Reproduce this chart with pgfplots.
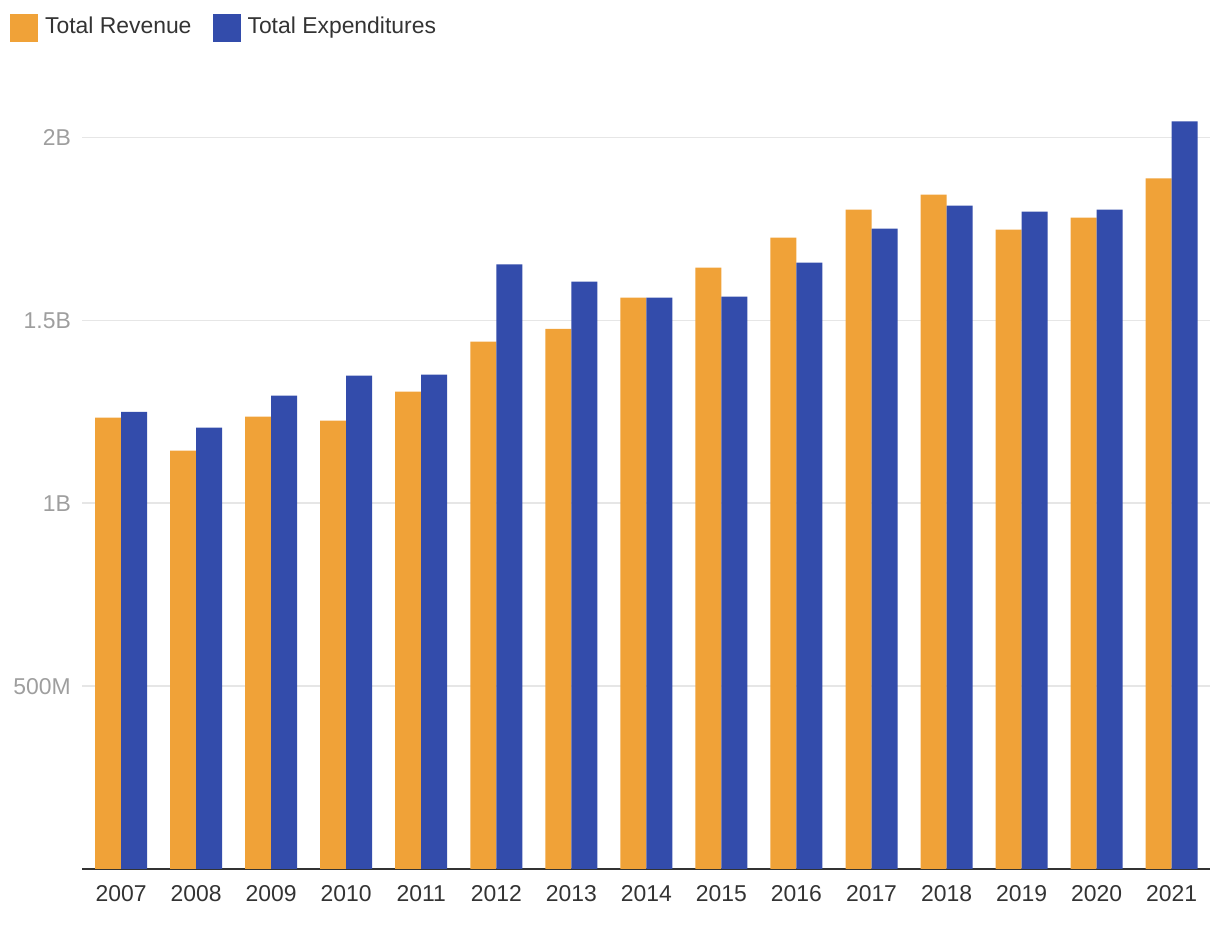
\documentclass[border=0pt]{standalone}
\usepackage{fontspec}
\setmainfont{Liberation Sans}
\usepackage{pgfplots}
\pgfplotsset{compat=1.18}
\definecolor{rev}{HTML}{F0A238}
\definecolor{expd}{HTML}{334CAB}
\definecolor{gridc}{HTML}{E6E6E6}
\definecolor{ylab}{HTML}{9E9E9E}
\definecolor{xlab}{HTML}{333333}
\begin{document}
\begin{tikzpicture}
\useasboundingbox (0bp,0bp) rectangle (1220bp,926bp);
\begin{axis}[
  at={(82bp,57bp)}, anchor=south west,
  scale only axis, width=1128bp, height=804.65bp,
  xmin=-0.52, xmax=14.51, ymin=0, ymax=2.2,
  ybar=0pt, bar width=26bp,
  axis x line*=bottom, axis y line*=left,
  y axis line style={draw=none},
  x axis line style={draw=xlab, line width=2bp},
  major tick length=0pt, tick style={draw=none},
  ytick={0.5,1,1.5,2}, yticklabels={500M,1B,1.5B,2B},
  xtick={0,...,14},
  xticklabels={2007,2008,2009,2010,2011,2012,2013,2014,2015,2016,2017,2018,2019,2020,2021},
  ymajorgrids, grid style={draw=gridc, line width=1.5bp},
  /pgf/number format/assume math mode=true,
  yticklabel style={font=\fontsize{23}{27}\selectfont, text=ylab, inner sep=0pt, xshift=-11bp},
  xticklabel style={font=\fontsize{23}{27}\selectfont, text=xlab, inner sep=0pt, anchor=north, yshift=-16bp},
  legend columns=2,
  legend image code/.code={\fill[#1,/tikz/.cd,draw=none] (0bp,-16bp) rectangle (28bp,12bp); \path (35bp,0bp);},
  legend style={at={(-0.0638,1.0626)}, anchor=north west, draw=none, fill=none,
    inner sep=0pt, outer sep=0pt, font=\fontsize{23}{27}\selectfont, text=xlab,
    nodes={inner sep=0pt},
    /tikz/every even column/.append style={column sep=21bp}},
]
\addplot[fill=rev, draw=none] coordinates {
(0,1.234) (1,1.144) (2,1.237) (3,1.226) (4,1.305) (5,1.442) (6,1.477) (7,1.562)
(8,1.644) (9,1.726) (10,1.803) (11,1.844) (12,1.748) (13,1.781) (14,1.888)};
\addplot[fill=expd, draw=none] coordinates {
(0,1.250) (1,1.207) (2,1.294) (3,1.349) (4,1.352) (5,1.653) (6,1.606) (7,1.562)
(8,1.565) (9,1.658) (10,1.751) (11,1.814) (12,1.797) (13,1.803) (14,2.044)};
\legend{Total Revenue,Total Expenditures}
\end{axis}
\end{tikzpicture}
\end{document}
